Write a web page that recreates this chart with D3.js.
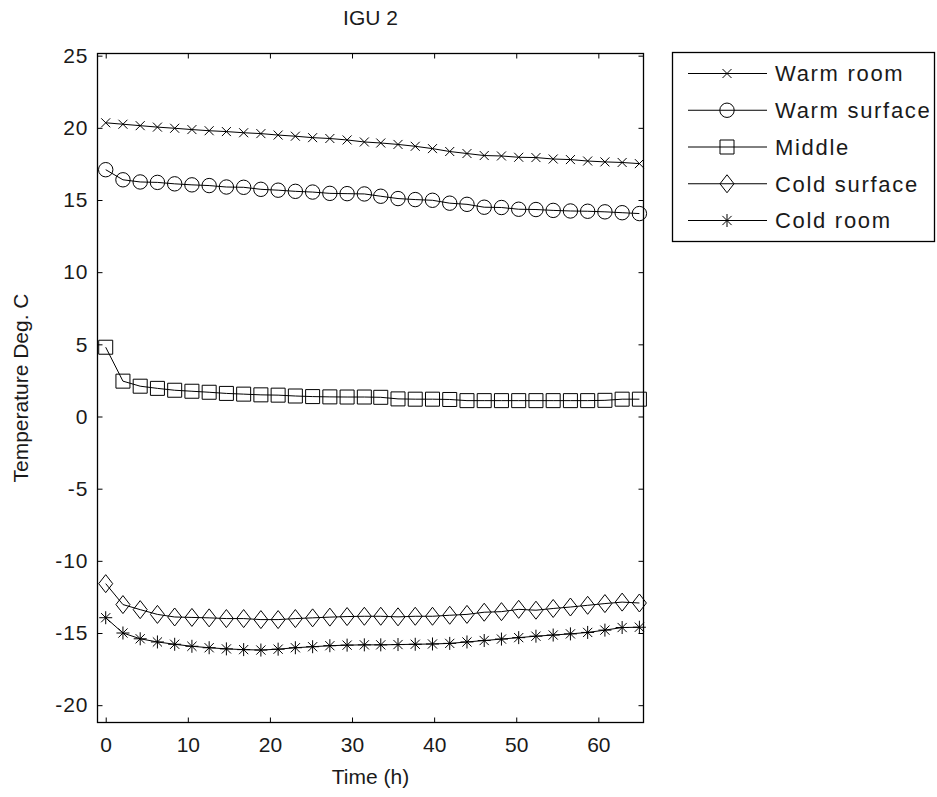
<!DOCTYPE html>
<html>
<head>
<meta charset="utf-8">
<script src="https://cdn.jsdelivr.net/npm/d3@7"></script>
<style>
  body { margin: 0; background: #fff; }
  svg { display: block; font-family: "Liberation Sans", Arial, sans-serif; }
</style>
</head>
<body>
<svg id="chart" width="937" height="797"></svg>
<script>
// ---- data ----
const times = [0, 2.1, 4.2, 6.3, 8.4, 10.5, 12.6, 14.7, 16.8, 18.9, 21.0, 23.1, 25.2, 27.3, 29.4, 31.5,
               33.5, 35.6, 37.7, 39.8, 41.9, 44.0, 46.1, 48.2, 50.3, 52.4, 54.5, 56.6, 58.7, 60.8, 62.9, 65.0];
const warmRoom = [20.35, 20.25, 20.15, 20.05, 19.97, 19.88, 19.8, 19.74, 19.66, 19.6, 19.5, 19.42, 19.32, 19.26, 19.16, 19.02,
                  18.95, 18.85, 18.72, 18.56, 18.36, 18.22, 18.08, 18.05, 17.96, 17.94, 17.84, 17.8, 17.7, 17.64, 17.6, 17.52];
const warmSurface = [17.1, 16.4, 16.25, 16.22, 16.12, 16.05, 16.0, 15.9, 15.88, 15.74, 15.68, 15.6, 15.55, 15.46, 15.44, 15.42,
                     15.26, 15.1, 15.03, 14.98, 14.78, 14.7, 14.5, 14.48, 14.36, 14.34, 14.28, 14.24, 14.22, 14.18, 14.12, 14.06];
const middle = [4.8, 2.45, 2.1, 1.95, 1.82, 1.75, 1.68, 1.6, 1.55, 1.5, 1.48, 1.42, 1.38, 1.36, 1.35, 1.35,
                1.33, 1.22, 1.2, 1.2, 1.18, 1.1, 1.1, 1.1, 1.1, 1.1, 1.1, 1.1, 1.1, 1.12, 1.2, 1.2];
const coldSurface = [-11.58, -13.03, -13.38, -13.71, -13.89, -13.92, -13.95, -14.0, -14.0, -14.07, -14.07, -14.0, -13.95, -13.9, -13.86, -13.84,
                     -13.84, -13.88, -13.84, -13.84, -13.77, -13.71, -13.56, -13.52, -13.36, -13.42, -13.3, -13.2, -13.08, -12.96, -12.86, -12.92];
const coldRoom = [-13.94, -15.0, -15.4, -15.62, -15.78, -15.92, -16.02, -16.1, -16.15, -16.18, -16.12, -16.02, -15.95, -15.88, -15.84, -15.82,
                  -15.82, -15.8, -15.78, -15.76, -15.72, -15.62, -15.52, -15.42, -15.32, -15.22, -15.14, -15.06, -14.96, -14.8, -14.62, -14.6];

const seriesNames = ["Warm room", "Warm surface", "Middle", "Cold surface", "Cold room"];
const seriesValues = [warmRoom, warmSurface, middle, coldSurface, coldRoom];
const markerTypes = ["x", "circle", "square", "diamond", "star"];
const xTicks = [0, 10, 20, 30, 40, 50, 60];
const yTicks = [-20, -15, -10, -5, 0, 5, 10, 15, 20, 25];
const titleText = "IGU 2";
const xLabel = "Time (h)";
const yLabel = "Temperature Deg. C";

// ---- layout ----
const plot = { left: 97.5, right: 643.5, top: 53.5, bottom: 722.5 };
const svg = d3.select("#chart");
const x = d3.scaleLinear().domain([-1, 65.5]).range([plot.left, plot.right]);
const y = d3.scaleLinear().domain([-21.2, 25.15]).range([plot.bottom, plot.top]);

function markerPath(type) {
  switch (type) {
    case "x": return "M-4.5,-4.5L4.5,4.5M-4.5,4.5L4.5,-4.5";
    case "circle": return "M7.2,0A7.2,7.2 0 1,1 -7.2,0A7.2,7.2 0 1,1 7.2,0Z";
    case "square": return "M-7,-7H7V7H-7Z";
    case "diamond": return "M0,-9L7,0L0,9L-7,0Z";
    case "star": return "M0,-6.5V6.5M-6.5,0H6.5M-4.6,-4.6L4.6,4.6M-4.6,4.6L4.6,-4.6";
  }
}

const fontSize = 21;
const fmt = d => String(d); // plain hyphen-minus like the original

// axes (ticks inward, box on)
const gx = svg.append("g").attr("transform", `translate(0,${plot.bottom})`)
  .call(d3.axisBottom(x).tickValues(xTicks).tickSize(-5).tickPadding(15).tickFormat(fmt));
const gxt = svg.append("g").attr("transform", `translate(0,${plot.top})`)
  .call(d3.axisTop(x).tickValues(xTicks).tickSize(-5).tickFormat(""));
const gy = svg.append("g").attr("transform", `translate(${plot.left},0)`)
  .call(d3.axisLeft(y).tickValues(yTicks).tickSize(-5).tickPadding(9).tickFormat(fmt));
const gyr = svg.append("g").attr("transform", `translate(${plot.right},0)`)
  .call(d3.axisRight(y).tickValues(yTicks).tickSize(-5).tickFormat(""));
[gx, gxt, gy, gyr].forEach(g => {
  g.select(".domain").remove();
  g.selectAll("line").attr("stroke", "#000").attr("stroke-width", 1);
  g.selectAll("text").attr("font-size", fontSize).attr("fill", "#1a1a1a")
    .attr("font-family", "Liberation Sans, Arial, sans-serif");
});
gy.selectAll("text").attr("letter-spacing", 1);

svg.append("rect")
  .attr("x", plot.left).attr("y", plot.top)
  .attr("width", plot.right - plot.left).attr("height", plot.bottom - plot.top)
  .attr("fill", "none").attr("stroke", "#000").attr("stroke-width", 1.3);

// series
const line = d3.line().x((d, i) => x(times[i])).y(d => y(d));
seriesValues.forEach((vals, si) => {
  const g = svg.append("g");
  g.append("path").datum(vals).attr("d", line)
    .attr("fill", "none").attr("stroke", "#000").attr("stroke-width", 1);
  g.selectAll("path.m").data(vals).enter().append("path").attr("class", "m")
    .attr("transform", (d, i) => `translate(${x(times[i])},${y(d)})`)
    .attr("d", markerPath(markerTypes[si]))
    .attr("fill", "none").attr("stroke", "#000").attr("stroke-width", 1);
});

// title and labels
svg.append("text").attr("x", (plot.left + plot.right) / 2).attr("y", 25)
  .attr("text-anchor", "middle").attr("font-size", fontSize).attr("fill", "#1a1a1a").text(titleText);
svg.append("text").attr("x", (plot.left + plot.right) / 2).attr("y", 784)
  .attr("text-anchor", "middle").attr("font-size", fontSize).attr("fill", "#1a1a1a").text(xLabel);
svg.append("text").attr("transform", `translate(28,${(plot.top + plot.bottom) / 2}) rotate(-90)`)
  .attr("text-anchor", "middle").attr("font-size", fontSize).attr("fill", "#1a1a1a").text(yLabel);

// legend
const leg = { x: 672.5, y: 52.5, w: 262, h: 189 };
svg.append("rect").attr("x", leg.x).attr("y", leg.y).attr("width", leg.w).attr("height", leg.h)
  .attr("fill", "#fff").attr("stroke", "#000").attr("stroke-width", 1.3);
const rowY = d3.scaleLinear().domain([0, 4]).range([leg.y + 21, leg.y + 168]);
seriesNames.forEach((name, i) => {
  const yy = rowY(i);
  const g = svg.append("g");
  g.append("line").attr("x1", 688).attr("x2", 767).attr("y1", yy).attr("y2", yy)
    .attr("stroke", "#000").attr("stroke-width", 1);
  g.append("path").attr("transform", `translate(727,${yy})`).attr("d", markerPath(markerTypes[i]))
    .attr("fill", "none").attr("stroke", "#000").attr("stroke-width", 1);
  g.append("text").attr("x", 775).attr("y", yy).attr("dy", "0.36em")
    .attr("font-size", 22).attr("letter-spacing", 1.7).attr("fill", "#1a1a1a").text(name);
});
</script>
</body>
</html>
